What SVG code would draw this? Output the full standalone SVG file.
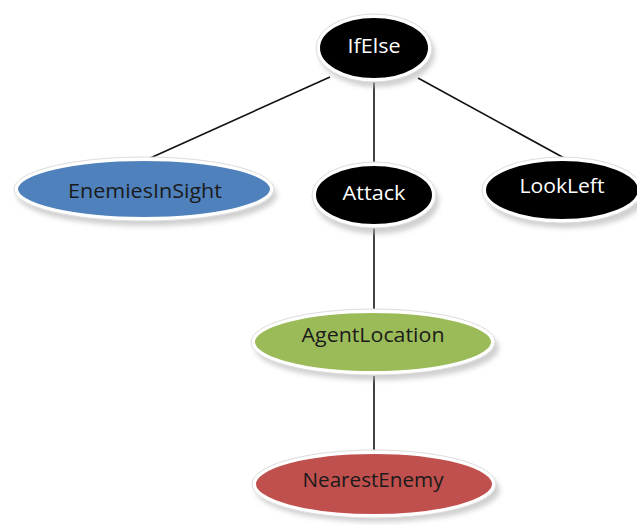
<svg xmlns="http://www.w3.org/2000/svg" width="637" height="525" viewBox="0 0 637 525">
  <style>
    .edge { stroke: #111; stroke-width: 1.6; fill: none; }
    .shadow { fill: #b0b0b0; opacity: 0.6; filter: url(#soft); }
    .node { stroke: #ffffff; stroke-width: 4; }
    .rim { fill: none; stroke: #dcdcdc; stroke-width: 1; }
    .label { font-family: "Open Sans", "Liberation Sans", sans-serif; font-size: 20px; text-anchor: middle; }
    .dark { fill: #ffffff; }
    .light { fill: #1a1a1a; }
  </style>
  <defs>
    <filter id="soft" x="-20%" y="-30%" width="140%" height="160%">
      <feGaussianBlur stdDeviation="2.5"/>
    </filter>
  </defs>
  <rect width="637" height="525" fill="#ffffff"/>

  <g id="connectors">
    <line class="edge" x1="330" y1="77" x2="148" y2="159"/>
    <line class="edge" x1="374" y1="80" x2="374" y2="164"/>
    <line class="edge" x1="418" y1="78" x2="566" y2="159"/>
    <line class="edge" x1="374" y1="228" x2="374" y2="310"/>
    <line class="edge" x1="374" y1="376" x2="374" y2="451"/>
  </g>

  <g id="ifelse">
    <ellipse class="shadow" cx="377" cy="53" rx="58" ry="34"/>
    <ellipse class="node" cx="374" cy="48" rx="56" ry="32" fill="#000000"/>
    <ellipse class="rim" cx="374" cy="48" rx="58" ry="34"/>
    <text class="label dark" x="374" y="53" textLength="53" lengthAdjust="spacingAndGlyphs">IfElse</text>
  </g>

  <g id="enemies-in-sight">
    <ellipse class="shadow" cx="147" cy="195" rx="130" ry="31"/>
    <ellipse class="node" cx="144" cy="189" rx="128" ry="30" fill="#4f81bd"/>
    <ellipse class="rim" cx="144" cy="189" rx="130" ry="32"/>
    <text class="label light" x="145" y="198" textLength="154" lengthAdjust="spacingAndGlyphs">EnemiesInSight</text>
  </g>

  <g id="attack">
    <ellipse class="shadow" cx="377" cy="201" rx="62" ry="33"/>
    <ellipse class="node" cx="374" cy="195" rx="60" ry="31" fill="#000000"/>
    <ellipse class="rim" cx="374" cy="195" rx="62" ry="33"/>
    <text class="label dark" x="374" y="200" textLength="63" lengthAdjust="spacingAndGlyphs">Attack</text>
  </g>

  <g id="look-left">
    <ellipse class="shadow" cx="566" cy="196" rx="80" ry="32"/>
    <ellipse class="node" cx="562" cy="190" rx="78" ry="31" fill="#000000"/>
    <ellipse class="rim" cx="562" cy="190" rx="80" ry="33"/>
    <text class="label dark" x="562" y="193" textLength="85" lengthAdjust="spacingAndGlyphs">LookLeft</text>
  </g>

  <g id="agent-location">
    <ellipse class="shadow" cx="377" cy="348" rx="122" ry="32"/>
    <ellipse class="node" cx="373" cy="342" rx="120" ry="31" fill="#9bbb59"/>
    <ellipse class="rim" cx="373" cy="342" rx="122" ry="33"/>
    <text class="label light" x="373" y="342" textLength="143" lengthAdjust="spacingAndGlyphs">AgentLocation</text>
  </g>

  <g id="nearest-enemy">
    <ellipse class="shadow" cx="378" cy="490" rx="122" ry="32"/>
    <ellipse class="node" cx="374" cy="484" rx="120" ry="32" fill="#c0504d"/>
    <ellipse class="rim" cx="374" cy="484" rx="122" ry="34"/>
    <text class="label light" x="373" y="487" textLength="141" lengthAdjust="spacingAndGlyphs">NearestEnemy</text>
  </g>
</svg>
